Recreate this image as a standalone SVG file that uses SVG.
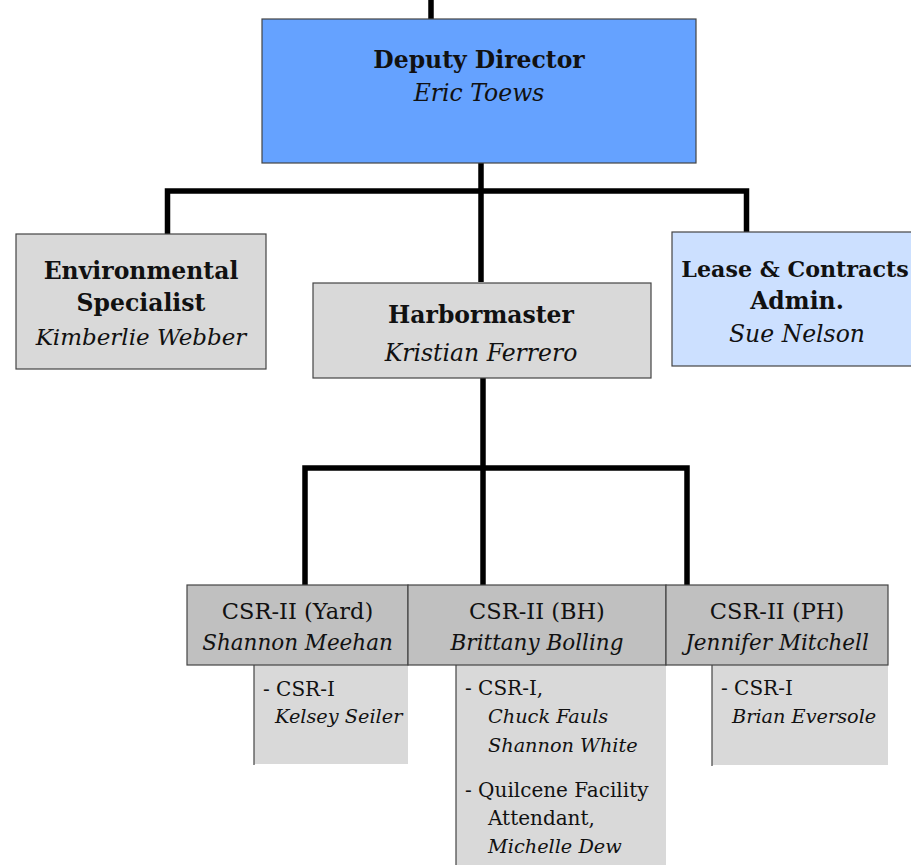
<svg xmlns="http://www.w3.org/2000/svg" width="911" height="865" viewBox="0 0 911 865">
<style>
.box{stroke:#444;stroke-width:1.2}
.t{font-family:"DejaVu Serif","Liberation Serif",serif;fill:#111;text-anchor:middle}
.b{font-weight:bold;font-size:23.5px}
.i{font-style:italic;font-size:23.5px}
.r{font-size:22.5px}
.ri{font-size:21.5px;font-style:italic}
.s{font-family:"DejaVu Serif","Liberation Serif",serif;fill:#111;font-size:20px}
.si{font-style:italic;font-size:19.3px}
.c{fill:none;stroke:#000;stroke-width:5.5;stroke-linejoin:miter}
.sub{fill:#d9d9d9}
.edge{stroke:#444;stroke-width:1.2}
</style>
<rect width="911" height="865" fill="#fff"/>
<g id="connectors">
<line class="c" x1="431" y1="0" x2="431" y2="20"/>
<line class="c" x1="481" y1="163" x2="481" y2="282"/>
<path class="c" d="M167.5,234 V191 H746.5 V232"/>
<line class="c" x1="483" y1="378" x2="483" y2="585"/>
<path class="c" d="M305,585 V468 H687 V585"/>
</g>
<g id="deputy-director">
<rect class="box" x="262" y="19" width="434" height="144" fill="#65a2ff"/>
<text class="t b" x="479" y="68">Deputy Director</text>
<text class="t i" x="479" y="101">Eric Toews</text>
</g>
<g id="environmental-specialist">
<rect class="box" x="16" y="234" width="250" height="135" fill="#d9d9d9"/>
<text class="t b" x="141" y="279">Environmental</text>
<text class="t b" x="141" y="311">Specialist</text>
<text class="t i" x="141" y="345" style="font-size:23px">Kimberlie Webber</text>
</g>
<g id="harbormaster">
<rect class="box" x="313" y="283" width="338" height="95" fill="#d9d9d9"/>
<text class="t b" x="481" y="323">Harbormaster</text>
<text class="t i" x="481" y="361">Kristian Ferrero</text>
</g>
<g id="lease-contracts">
<rect class="box" x="672" y="232" width="250" height="134" fill="#cce0ff"/>
<text class="t b" x="795" y="277" style="font-size:22.2px">Lease &amp; Contracts</text>
<text class="t b" x="797" y="309">Admin.</text>
<text class="t i" x="797" y="342">Sue Nelson</text>
</g>
<g id="csr-yard">
<rect class="sub" x="254" y="665" width="154" height="99"/>
<line class="edge" x1="254" y1="665" x2="254" y2="765"/>
<rect class="box" x="187" y="585" width="221" height="80" fill="#c0c0c0"/>
<text class="t r" x="297.5" y="619">CSR-II (Yard)</text>
<text class="t ri" x="297.5" y="650">Shannon Meehan</text>
<text class="s" x="263" y="696">- CSR-I</text>
<text class="s si" x="275" y="723">Kelsey Seiler</text>
</g>
<g id="csr-bh">
<rect class="sub" x="456" y="665" width="210" height="200"/>
<line class="edge" x1="456" y1="665" x2="456" y2="865"/>
<rect class="box" x="408" y="585" width="258" height="80" fill="#c0c0c0"/>
<text class="t r" x="537" y="619">CSR-II (BH)</text>
<text class="t ri" x="537" y="650">Brittany Bolling</text>
<text class="s" x="465" y="695">- CSR-I,</text>
<text class="s si" x="488" y="723">Chuck Fauls</text>
<text class="s si" x="488" y="752">Shannon White</text>
<text class="s" x="465" y="797">- Quilcene Facility</text>
<text class="s" x="488" y="825">Attendant,</text>
<text class="s si" x="488" y="853">Michelle Dew</text>
</g>
<g id="csr-ph">
<rect class="sub" x="712" y="665" width="176" height="100"/>
<line class="edge" x1="712" y1="665" x2="712" y2="766"/>
<rect class="box" x="666" y="585" width="222" height="80" fill="#c0c0c0"/>
<text class="t r" x="777" y="619">CSR-II (PH)</text>
<text class="t ri" x="777" y="650">Jennifer Mitchell</text>
<text class="s" x="721" y="695">- CSR-I</text>
<text class="s si" x="732" y="723">Brian Eversole</text>
</g>
</svg>
